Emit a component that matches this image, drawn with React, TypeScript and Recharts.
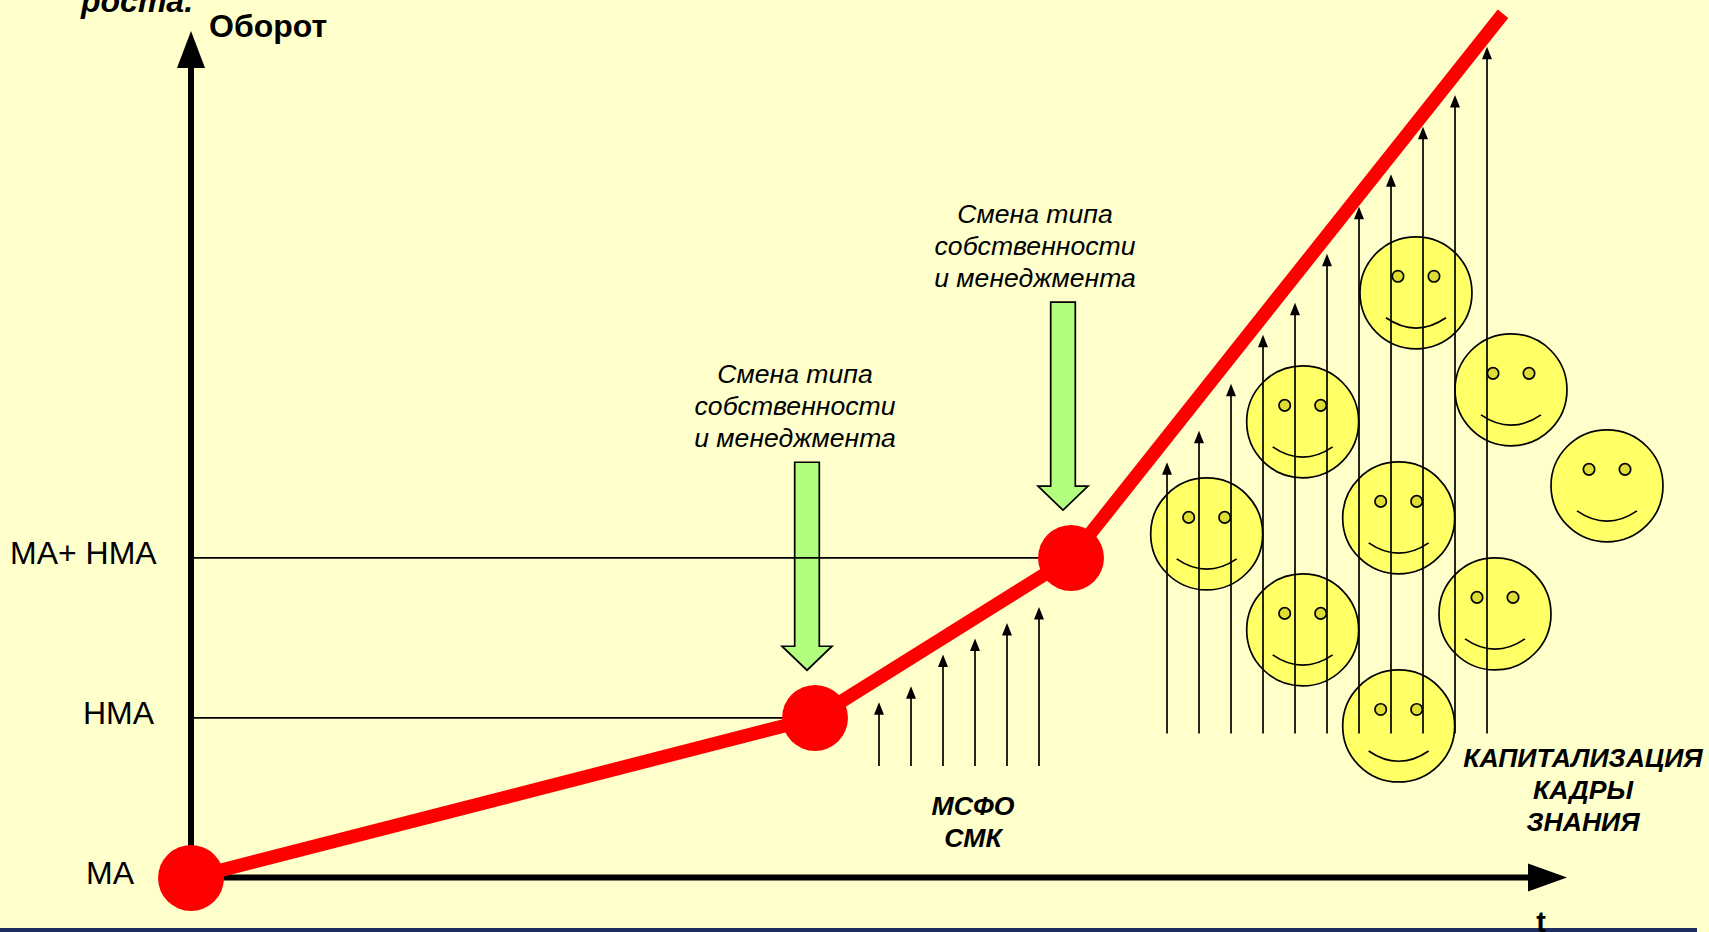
import React from 'react';
import {
  ComposedChart,
  Line,
  Scatter,
  ReferenceLine,
  XAxis,
  YAxis,
} from 'recharts';

// t: one unit is one step between the small growth arrows
const trendT = [0, 19.5, 27.5, 41];
const trendValue = [0, 16, 32, 86.4];

const levelValues = [0, 16, 32];
const levelNames = ['МА', 'НМА', 'МА+ НМА'];

const changeT = [19.25, 27.25];
const changeTip = [20.77, 36.77];

const msfoT = [21.5, 22.5, 23.5, 24.5, 25.5, 26.5];
const msfoTip = [17.57, 19.17, 22.34, 23.94, 25.5, 27.1];
const msfoBase = 11.2;

const capitalT = [30.5, 31.5, 32.5, 33.5, 34.5, 35.5, 36.5, 37.5, 38.5, 39.5, 40.5];
const capitalTip = [41.57, 44.7, 49.4, 54.3, 57.5, 62.4, 67.1, 70.34, 75.1, 78.27, 83.1];
const capitalBase = 14.44;

const smileT = [31.74, 34.74, 34.74, 37.74, 37.74, 38.28, 41.25, 40.75, 44.25];
const smileValue = [34.4, 45.6, 24.8, 36, 15.2, 58.5, 48.8, 26.4, 39.2];

const WIDTH = 1709;
const HEIGHT = 932;
const T_MAX = 47.4375;
const VALUE_MAX = 87.77;

const trendData = trendT.map((t, i) => ({ t, value: trendValue[i] }));
const nodeData = trendData.slice(0, 3);
const changeData = changeT.map((t, i) => ({ t, value: changeTip[i] }));
const smileData = smileT.map((t, i) => ({ t, value: smileValue[i] }));
const arrowTips = [
  ...msfoT.map((t, i) => ({ t, value: msfoTip[i] })),
  ...capitalT.map((t, i) => ({ t, value: capitalTip[i] })),
];

const tickLeft: Record<string, number> = { 'МА': 86, 'НМА': 83, 'МА+ НМА': 10 };

const LevelTick = ({ y, payload }: any) => {
  const name = levelNames[levelValues.indexOf(payload.value)];
  return (
    <text x={tickLeft[name]} y={y + 6} fontSize={32} fill="#000" fontFamily="Liberation Sans">
      {name}
    </text>
  );
};

const Smile = ({ cx, cy }: any) => (
  <g stroke="#000" strokeWidth={1.7}>
    <circle cx={cx} cy={cy} r={56} fill="#FFFF66" />
    <circle cx={cx - 18} cy={cy - 16.5} r={5.7} fill="#DDDD33" />
    <circle cx={cx + 18} cy={cy - 16.5} r={5.7} fill="#DDDD33" />
    <path d={`M${cx - 30} ${cy + 25} Q${cx} ${cy + 45.6} ${cx + 30} ${cy + 25}`} fill="none" />
  </g>
);

const ArrowHead = ({ cx, cy }: any) => (
  <path d={`M${cx} ${cy} L${cx + 5} ${cy + 12.5} L${cx - 5} ${cy + 12.5} Z`} fill="#000" />
);

// hollow block arrow pointing down at the tip
const ChangeArrow = ({ cx, cy }: any) => (
  <path
    d={`M${cx - 12.3} ${cy - 208} H${cx + 12.3} V${cy - 24} H${cx + 25} L${cx} ${cy} L${cx - 25} ${cy - 24} H${cx - 12.3} Z`}
    fill="#B2FF80"
    stroke="#000"
    strokeWidth={1.7}
  />
);

const Node = ({ cx, cy }: any) => <circle cx={cx} cy={cy} r={33} fill="#FF0000" />;

const Caption = ({ x, y, lines, bold }: { x: number; y: number; lines: string[]; bold?: boolean }) => (
  <text
    textAnchor="middle"
    fontSize={26.6}
    fontStyle="italic"
    fontWeight={bold ? 'bold' : 'normal'}
    fill="#000"
    fontFamily="Liberation Sans"
  >
    {lines.map((line, i) => (
      <tspan key={i} x={x} y={y + i * 32}>
        {line}
      </tspan>
    ))}
  </text>
);

const changeLines = ['Смена типа', 'собственности', 'и менеджмента'];

export default function App() {
  return (
    <div style={{ position: 'absolute', left: 0, top: 0, width: WIDTH, height: HEIGHT, background: '#FFFFCC', overflow: 'hidden' }}>
      <ComposedChart
        width={WIDTH}
        height={HEIGHT}
        margin={{ top: 0, right: 0, bottom: 0, left: 0 }}
        data={trendData}
      >
        <rect x={0} y={928} width={1697} height={4} fill="#1F2D5E" />

        <XAxis
          type="number"
          dataKey="t"
          domain={[0, T_MAX]}
          height={54}
          axisLine={false}
          tick={false}
          tickLine={false}
        />
        <YAxis
          type="number"
          domain={[0, VALUE_MAX]}
          width={191}
          ticks={levelValues}
          interval={0}
          axisLine={false}
          tickLine={false}
          tick={<LevelTick />}
        />

        <Scatter data={smileData} dataKey="value" shape={<Smile />} isAnimationActive={false} zIndex={50} />
        <Scatter data={changeData} dataKey="value" shape={<ChangeArrow />} isAnimationActive={false} zIndex={50} />

        {/* leader lines from the turnover levels to the trend */}
        <ReferenceLine segment={[{ x: 0, y: 32 }, { x: 27.5, y: 32 }]} stroke="#000" strokeWidth={1.7} zIndex={300} />
        <ReferenceLine segment={[{ x: 0, y: 16 }, { x: 19.5, y: 16 }]} stroke="#000" strokeWidth={1.7} zIndex={300} />

        {msfoT.map((t, i) => (
          <ReferenceLine key={t} segment={[{ x: t, y: msfoBase }, { x: t, y: msfoTip[i] - 1 }]} stroke="#000" strokeWidth={1.7} zIndex={300} />
        ))}
        {capitalT.map((t, i) => (
          <ReferenceLine key={t} segment={[{ x: t, y: capitalBase }, { x: t, y: capitalTip[i] - 1 }]} stroke="#000" strokeWidth={1.7} zIndex={300} />
        ))}
        <Scatter data={arrowTips} dataKey="value" shape={<ArrowHead />} isAnimationActive={false} zIndex={300} />

        {/* axes with their arrowheads */}
        <ReferenceLine segment={[{ x: 0, y: 0.05 }, { x: 42, y: 0.05 }]} stroke="#000" strokeWidth={6} zIndex={300} />
        <ReferenceLine segment={[{ x: 0, y: 0 }, { x: 0, y: 81 }]} stroke="#000" strokeWidth={6} zIndex={300} />
        <path d="M191 31 L205 68 L177 68 Z" fill="#000" />
        <path d="M1567 877.5 L1528 863.5 L1528 891.5 Z" fill="#000" />

        <Line
          data={trendData}
          dataKey="value"
          type="linear"
          stroke="#FF0000"
          strokeWidth={13.5}
          dot={false}
          isAnimationActive={false}
          zIndex={400}
        />
        <Scatter data={nodeData} dataKey="value" shape={<Node />} isAnimationActive={false} zIndex={500} />

        <text x={81} y={12} fontSize={32} fontWeight="bold" fontStyle="italic" fontFamily="Liberation Sans" fill="#000">роста.</text>
        <text x={209} y={37} fontSize={32} fontWeight="bold" fontFamily="Liberation Sans" fill="#000">Оборот</text>
        <text x={1541} y={932} textAnchor="middle" fontSize={29} fontWeight="bold" fontFamily="Liberation Sans" fill="#000">t</text>

        <Caption x={795} y={383} lines={changeLines} />
        <Caption x={1035} y={223} lines={changeLines} />
        <Caption bold x={973} y={815} lines={['МСФО', 'СМК']} />
        <Caption bold x={1583} y={767} lines={['КАПИТАЛИЗАЦИЯ', 'КАДРЫ', 'ЗНАНИЯ']} />
      </ComposedChart>
    </div>
  );
}
